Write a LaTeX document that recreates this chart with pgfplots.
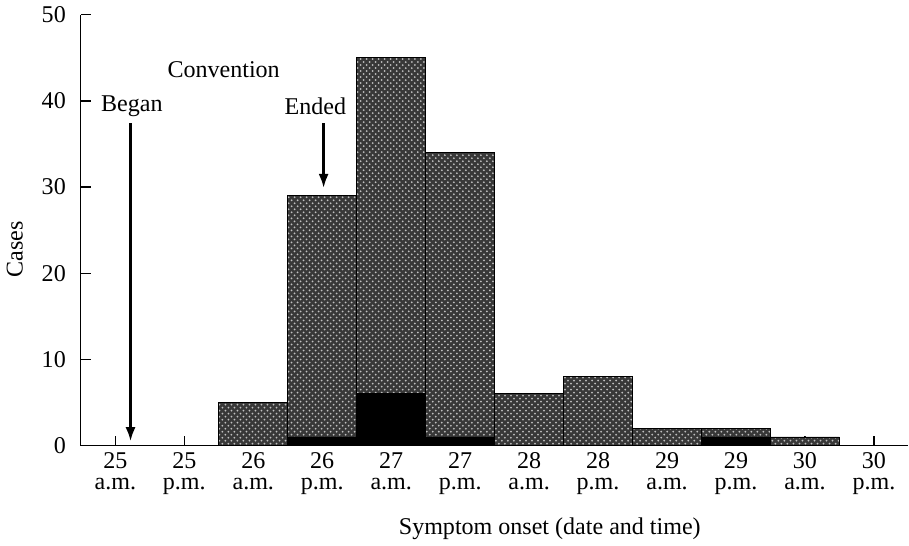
\documentclass[border=0pt]{standalone}
\usepackage{fontspec}
\setmainfont{Liberation Serif}
\usepackage{pgfplots}
\pgfplotsset{compat=1.18}
\usetikzlibrary{arrows.meta, patterns}
\definecolor{stipple}{gray}{0.22}

% bottom (solid black) and top (stippled) parts of each half-day bin
\pgfplotstableread{
idx dark light
0  0 0
1  0 0
2  0 5
3  1 28
4  6 39
5  1 33
6  0 6
7  0 8
8  0 2
9  1 1
10 0 1
11 0 0
}\onset

\begin{document}
\begin{tikzpicture}[font=\fontsize{12}{14}\selectfont]
\begin{axis}[
    scale only axis, width=413pt, height=215pt,
    xmin=-0.5, xmax=11.5, ymin=0, ymax=50,
    axis x line*=bottom, axis y line*=left,
    ybar stacked, bar width=1, bar shift=0pt,
    xtick={0,...,11},
    xticklabels={25\\a.m., 25\\p.m., 26\\a.m., 26\\p.m., 27\\a.m., 27\\p.m.,
                 28\\a.m., 28\\p.m., 29\\a.m., 29\\p.m., 30\\a.m., 30\\p.m.},
    xticklabel style={align=center, font=\fontsize{12}{10.5}\selectfont},
    ytick={0,10,...,50},
    yticklabel style={xshift=-4pt},
    /pgf/number format/assume math mode=true,
    tick align=inside, major tick length=5pt,
    tick style={black, semithick},
    axis line style={semithick},
    clip=false,
]
\addplot[fill=black, draw=black] table[x=idx, y=dark] {\onset};
\addplot[fill=stipple, draw=black,
    postaction={pattern=crosshatch dots, pattern color=white!75!black}]
    table[x=idx, y=light] {\onset};

\node at (axis cs:0.24,39.4) {Began};
\draw[-{Latex[length=7pt,width=5pt]}, line width=1.2pt]
    (axis cs:0.22,37.4) -- (axis cs:0.22,0.5);
\node at (axis cs:1.57,43.6) {Convention};
\node at (axis cs:2.9,39.4) {Ended};
\draw[-{Latex[length=7pt,width=5pt]}, line width=1.2pt]
    (axis cs:3.02,37.4) -- (axis cs:3.02,29.9);
\node at (axis cs:6.3,-9.6) {Symptom onset (date and time)};
\node[rotate=90] at ([xshift=-33pt]rel axis cs:0,0.455) {Cases};
\end{axis}
\end{tikzpicture}
\end{document}
